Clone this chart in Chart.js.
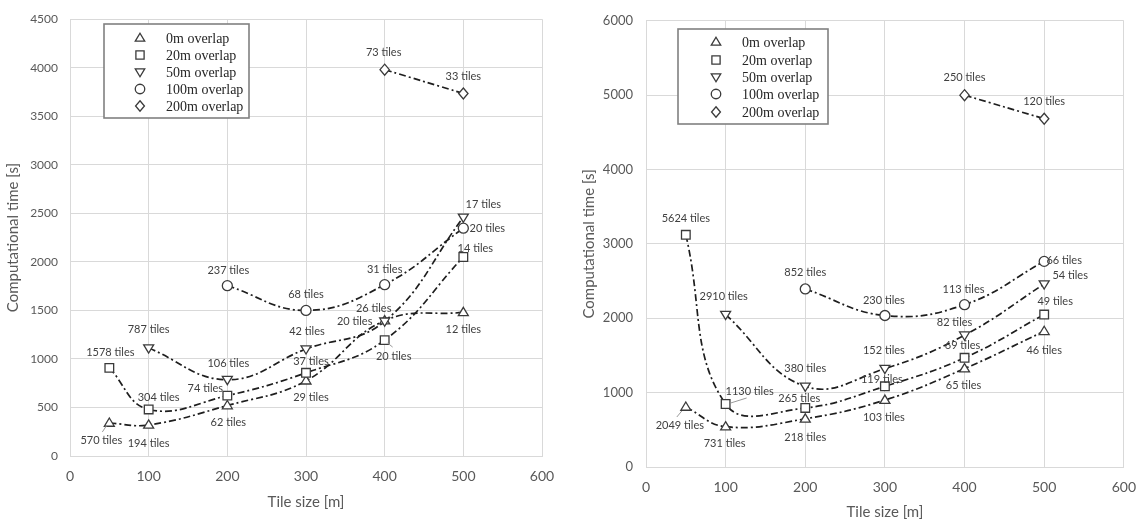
<!DOCTYPE html>
<html><head><meta charset="utf-8">
<script src="https://cdn.jsdelivr.net/npm/chart.js@4/dist/chart.umd.min.js"></script>
<style>
html,body{margin:0;padding:0;background:#fff;}
#wrap{position:relative;width:1148px;height:521px;overflow:hidden;}
canvas{position:absolute;top:0;}
</style></head><body>
<div id="wrap">
<canvas id="left" width="574" height="521" style="left:0px"></canvas>
<canvas id="right" width="574" height="521" style="left:574px"></canvas>
</div>
<script>
// ---------------- DATA ----------------
const tileSizes = [50, 100, 200, 300, 400, 500];
const seriesNames = ['0m overlap', '20m overlap', '50m overlap', '100m overlap', '200m overlap'];

// Left panel: computational time [s]
const leftTime0m   = [340, 320, 520, 775, 1395, 1480];
const leftTime20m  = [908, 480, 622, 857, 1194, 2050];
const leftTime50m  = [null, 1112, 786, 1102, 1388, 2459];
const leftTime100m = [null, null, 1755, 1500, 1765, 2347];
const leftTime200m = [null, null, null, null, 3980, 3735];
// Left panel: tile counts
const leftTiles0m   = ['570 tiles', '194 tiles', '62 tiles', '29 tiles', '20 tiles', '12 tiles'];
const leftTiles20m  = ['1578 tiles', '304 tiles', '74 tiles', '37 tiles', '20 tiles', '14 tiles'];
const leftTiles50m  = [null, '787 tiles', '106 tiles', '42 tiles', '26 tiles', '17 tiles'];
const leftTiles100m = [null, null, '237 tiles', '68 tiles', '31 tiles', '20 tiles'];
const leftTiles200m = [null, null, null, null, '73 tiles', '33 tiles'];

// Right panel: computational time [s]
const rightTime0m   = [807, 542, 648, 900, 1323, 1825];
const rightTime20m  = [3122, 847, 794, 1085, 1468, 2050];
const rightTime50m  = [null, 2050, 1085, 1323, 1772, 2460];
const rightTime100m = [null, null, 2394, 2037, 2183, 2765];
const rightTime200m = [null, null, null, null, 5000, 4683];
// Right panel: tile counts
const rightTiles0m   = ['2049 tiles', '731 tiles', '218 tiles', '103 tiles', '65 tiles', '46 tiles'];
const rightTiles20m  = ['5624 tiles', '1130 tiles', '265 tiles', '119 tiles', '69 tiles', '49 tiles'];
const rightTiles50m  = [null, '2910 tiles', '380 tiles', '152 tiles', '82 tiles', '54 tiles'];
const rightTiles100m = [null, null, '852 tiles', '230 tiles', '113 tiles', '66 tiles'];
const rightTiles200m = [null, null, null, null, '250 tiles', '120 tiles'];

// Axis ticks
const xTicks = [0, 100, 200, 300, 400, 500, 600];
const leftYTicks = [0, 500, 1000, 1500, 2000, 2500, 3000, 3500, 4000, 4500];
const rightYTicks = [0, 1000, 2000, 3000, 4000, 5000, 6000];

// ---------------- STYLE / LAYOUT ----------------
const pointStyles = ['triangle', 'rect', 'triangle', 'circle', 'rectRot'];
const pointRotations = [0, 0, 180, 0, 0];
const pointRadii = [5, 6, 5, 5, 5.5];

// label offsets (pixels) relative to each marker
const leftLabelOffsets = [
  [[-8,17],[0,19],[1,17],[5,17],[-30,1],[0,17]],
  [[1,-15],[10,-12],[-22,-7],[5,-11],[9,16],[12,-9]],
  [null,[0,-19],[1,-16],[1,-18],[-11,-13],[20,-13]],
  [null,null,[1,-15],[0,-16],[0,-15],[24,0]],
  [null,null,null,null,[-1,-17],[0,-17]]
];
const rightLabelOffsets = [
  [[-6,18],[-1,17],[0,19],[-1,17],[-1,17],[0,19]],
  [[0,-16],[24,-13],[-6,-9],[-3,-7],[-2,-12],[11,-13]],
  [null,[-2,-18],[0,-18],[-1,-18],[-10,-13],[26,-9]],
  [null,null,[0,-17],[-1,-15],[-1,-15],[20,-1]],
  [null,null,null,null,[0,-18],[0,-17]]
];
// leader lines: series, index, from offset, to offset
const leftLeaders = [
  {s:0, i:0, from:[-7,9], to:[-3,3]},
  {s:1, i:4, from:[3,3], to:[8,7]}
];
const rightLeaders = [
  {s:0, i:0, from:[-9,10], to:[-4,4]},
  {s:1, i:1, from:[5,-1], to:[21,-6]}
];

const FONT = 'Lato, "Open Sans", sans-serif';
const TICK_COLOR = '#595959';
const GRID_COLOR = '#d9d9d9';

function drawMarker(ctx, style, rot, r, x, y) {
  ctx.save();
  ctx.translate(x, y);
  ctx.rotate(rot * Math.PI / 180);
  ctx.beginPath();
  if (style === 'triangle') {
    ctx.moveTo(0, -r);
    ctx.lineTo(r * 0.866 * 1.15, r * 0.5 * 1.3);
    ctx.lineTo(-r * 0.866 * 1.15, r * 0.5 * 1.3);
    ctx.closePath();
  } else if (style === 'rect') {
    const s = r * 0.72;
    ctx.rect(-s, -s, 2 * s, 2 * s);
  } else if (style === 'circle') {
    ctx.arc(0, 0, r, 0, Math.PI * 2);
  } else if (style === 'rectRot') {
    ctx.moveTo(0, -r); ctx.lineTo(r * 0.85, 0); ctx.lineTo(0, r); ctx.lineTo(-r * 0.85, 0); ctx.closePath();
  }
  ctx.fillStyle = '#fff';
  ctx.fill();
  ctx.lineWidth = 1.3;
  ctx.strokeStyle = '#3a3a3a';
  ctx.stroke();
  ctx.restore();
}

function buildChart(canvasId, times, tiles, offsets, leaders, yTicks, L) {
  const datasets = times.map((arr, s) => ({
    label: seriesNames[s],
    data: tileSizes.map((x, i) => arr[i] == null ? null : {x: x, y: arr[i]}).filter(p => p),
    tiles: tiles[s].filter(t => t != null),
    offs: offsets[s].filter(o => o != null),
    borderColor: '#1e1e1e',
    borderWidth: 1.7,
    borderDash: [7, 3, 2, 3],
    tension: 0.42,
    fill: false,
    pointStyle: false,
    pointRadius: 0,
    customStyle: pointStyles[s],
    customRot: pointRotations[s],
    customR: pointRadii[s]
  }));

  const markersAndLabels = {
    id: 'markersAndLabels',
    afterDatasetsDraw(chart) {
      const ctx = chart.ctx;
      chart.data.datasets.forEach((ds, s) => {
        const meta = chart.getDatasetMeta(s);
        meta.data.forEach((pt) => {
          drawMarker(ctx, ds.customStyle, ds.customRot, ds.customR, pt.x, pt.y);
        });
      });
      ctx.save();
      ctx.strokeStyle = '#9a9a9a';
      ctx.lineWidth = 1;
      leaders.forEach(l => {
        const pts = chart.getDatasetMeta(l.s).data;
        const orig = times[l.s];
        let idx = -1, c = 0;
        for (let k = 0; k < orig.length; k++) { if (orig[k] != null) { if (k === l.i) idx = c; c++; } }
        const pt = pts[idx];
        if (!pt) return;
        ctx.beginPath();
        ctx.moveTo(pt.x + l.from[0], pt.y + l.from[1]);
        ctx.lineTo(pt.x + l.to[0], pt.y + l.to[1]);
        ctx.stroke();
      });
      ctx.restore();
      ctx.save();
      ctx.font = '11px ' + FONT;
      ctx.fillStyle = '#404040';
      ctx.textAlign = 'center';
      ctx.textBaseline = 'middle';
      chart.data.datasets.forEach((ds, s) => {
        const meta = chart.getDatasetMeta(s);
        meta.data.forEach((pt, i) => {
          const o = ds.offs[i];
          ctx.fillText(ds.tiles[i], pt.x + o[0], pt.y + o[1]);
        });
      });
      ctx.restore();
    }
  };

  const legendBox = {
    id: 'legendBox',
    afterDraw(chart) {
      const ctx = chart.ctx;
      const g = L.legend;
      ctx.save();
      ctx.fillStyle = '#fff';
      ctx.fillRect(g.x, g.y, g.w, g.h);
      ctx.strokeStyle = '#808080';
      ctx.lineWidth = 1.6;
      ctx.strokeRect(g.x, g.y, g.w, g.h);
      ctx.font = '14px "Liberation Serif", "Times New Roman", serif';
      ctx.fillStyle = '#262626';
      ctx.textAlign = 'left';
      ctx.textBaseline = 'middle';
      seriesNames.forEach((n, s) => {
        const y = g.rows[s];
        drawMarker(ctx, pointStyles[s], pointRotations[s], pointRadii[s] * 0.95, g.mx, y);
        ctx.fillText(n, g.tx, y + 1);
      });
      ctx.restore();
    }
  };

  return new Chart(document.getElementById(canvasId), {
    type: 'line',
    data: { datasets },
    options: {
      responsive: false,
      animation: false,
      events: [],
      layout: { padding: { top: L.top, right: L.right, left: 0, bottom: 0 } },
      plugins: { legend: { display: false }, tooltip: { enabled: false } },
      scales: {
        x: {
          type: 'linear', min: 0, max: 600,
          afterBuildTicks: sc => { sc.ticks = xTicks.map(v => ({value: v})); },
          afterFit: sc => { sc.height = L.xHeight; },
          grid: { color: GRID_COLOR, drawTicks: false, lineWidth: 1 },
          border: { color: GRID_COLOR },
          ticks: { color: TICK_COLOR, font: { family: FONT, size: 14 }, padding: L.xTickPad,
                   callback: v => String(v) },
          title: { display: true, text: 'Tile size [m]', color: TICK_COLOR,
                   font: { family: FONT, size: 15 }, padding: { top: 0, bottom: L.xTitlePad } }
        },
        y: {
          type: 'linear', min: 0, max: yTicks[yTicks.length - 1],
          afterBuildTicks: sc => { sc.ticks = yTicks.map(v => ({value: v})); },
          afterFit: sc => { sc.width = L.yWidth; },
          grid: { color: GRID_COLOR, drawTicks: false, lineWidth: 1 },
          border: { color: GRID_COLOR },
          ticks: { color: TICK_COLOR, font: { family: FONT, size: L.yTickSize }, padding: L.yTickPad,
                   callback: v => String(v) },
          title: { display: true, text: 'Computational time [s]', color: TICK_COLOR,
                   font: { family: FONT, size: 15 }, padding: { top: L.yTitlePad, bottom: 0 } }
        }
      }
    },
    plugins: [markersAndLabels, legendBox]
  });
}

buildChart('left',
  [leftTime0m, leftTime20m, leftTime50m, leftTime100m, leftTime200m],
  [leftTiles0m, leftTiles20m, leftTiles50m, leftTiles100m, leftTiles200m],
  leftLabelOffsets, leftLeaders, leftYTicks,
  { top: 15, right: 32, xHeight: 65, yWidth: 70, xTickPad: 12, xTitlePad: 10, yTickSize: 12, yTickPad: 12, yTitlePad: 4,
    legend: { x: 104, y: 24, w: 145, h: 94, mx: 140, tx: 166, rows: [38, 55, 72, 89, 106] } });

buildChart('right',
  [rightTime0m, rightTime20m, rightTime50m, rightTime100m, rightTime200m],
  [rightTiles0m, rightTiles20m, rightTiles50m, rightTiles100m, rightTiles200m],
  rightLabelOffsets, rightLeaders, rightYTicks,
  { top: 13, right: 19, xHeight: 54, yWidth: 72, xTickPad: 12, xTitlePad: 0, yTickSize: 13, yTickPad: 13, yTitlePad: 6,
    legend: { x: 104, y: 29, w: 150, h: 95, mx: 142, tx: 168, rows: [42, 60, 77, 94, 112] } });
</script>
</body></html>
